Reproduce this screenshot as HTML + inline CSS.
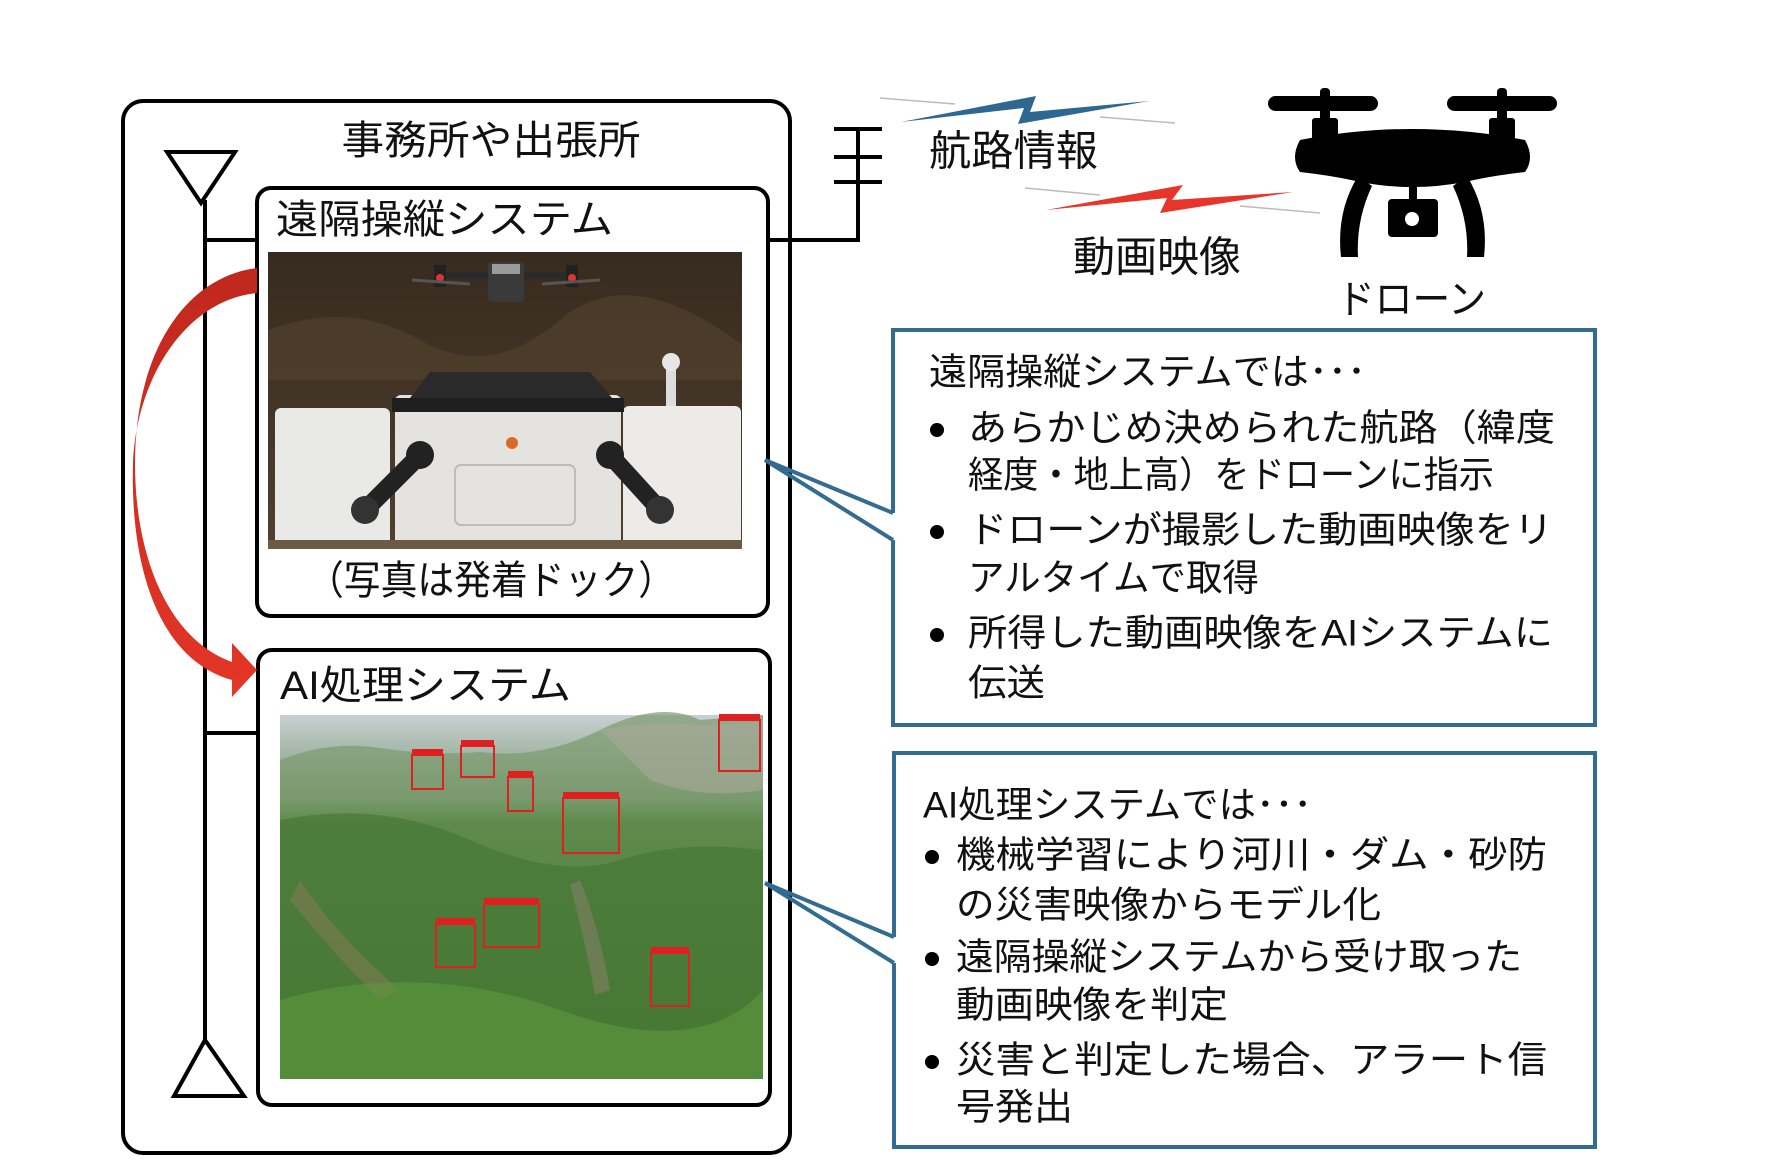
<!DOCTYPE html>
<html><head><meta charset="utf-8"><style>
html,body{margin:0;padding:0;background:#fff;}
svg{display:block;}
text{font-family:"Liberation Sans","Noto Sans CJK JP",sans-serif;fill:#111;}
</style></head><body>
<svg width="1770" height="1174" viewBox="0 0 1770 1174" xmlns="http://www.w3.org/2000/svg">
<defs>
<linearGradient id="bg1" x1="0" y1="0" x2="0" y2="1">
<stop offset="0" stop-color="#3a2e22"/><stop offset="0.5" stop-color="#4a3b2b"/><stop offset="1" stop-color="#5a4a38"/>
</linearGradient>
<linearGradient id="bg2" x1="0" y1="0" x2="0" y2="1">
<stop offset="0" stop-color="#c9d0d4"/><stop offset="0.12" stop-color="#9fb3a0"/><stop offset="0.3" stop-color="#5e8a4c"/><stop offset="1" stop-color="#4d7f38"/>
</linearGradient>
<linearGradient id="arc" x1="0" y1="0" x2="0" y2="1">
<stop offset="0" stop-color="#c0281e"/><stop offset="1" stop-color="#e33626"/>
</linearGradient>
</defs>

<rect x="123" y="101" width="667" height="1052" rx="20" fill="none" stroke="#000" stroke-width="4"/>
<text x="491" y="141" font-size="40" text-anchor="middle" dominant-baseline="central" textLength="299" lengthAdjust="spacingAndGlyphs">事務所や出張所</text>

<line x1="205" y1="200" x2="205" y2="1040" stroke="#000" stroke-width="4"/>
<polygon points="167,152 235,152 201,203" fill="none" stroke="#000" stroke-width="4"/>
<polygon points="205,1040 174,1096 244,1096" fill="none" stroke="#000" stroke-width="4"/>
<line x1="205" y1="240" x2="257" y2="240" stroke="#000" stroke-width="4"/>
<line x1="205" y1="733" x2="258" y2="733" stroke="#000" stroke-width="4"/>

<polyline points="768,240 858,240 858,127" fill="none" stroke="#000" stroke-width="4"/>
<line x1="834" y1="129" x2="882" y2="129" stroke="#000" stroke-width="4"/>
<line x1="834" y1="157" x2="882" y2="157" stroke="#000" stroke-width="4"/>
<line x1="834" y1="182" x2="882" y2="182" stroke="#000" stroke-width="4"/>

<rect x="257" y="188" width="511" height="428" rx="14" fill="#fff" stroke="#000" stroke-width="4"/>
<text x="276" y="220" font-size="40" dominant-baseline="central" textLength="337" lengthAdjust="spacingAndGlyphs">遠隔操縦システム</text>
<g>
<rect x="268" y="252" width="474" height="297" fill="url(#bg1)"/>
<rect x="268" y="252" width="474" height="297" fill="#2e2418" opacity="0.25"/>
<path d="M268 330 Q350 300 420 340 T560 320 T742 345 L742 380 L268 380Z" fill="#54432f" opacity="0.6"/>
<rect x="440" y="272" width="130" height="7" fill="#2a2a2a"/>
<rect x="488" y="262" width="36" height="40" rx="4" fill="#3a3a3a"/>
<rect x="492" y="264" width="28" height="10" fill="#9a9a9a"/>
<rect x="434" y="265" width="12" height="22" fill="#222"/><circle cx="440" cy="278" r="4" fill="#d33"/>
<rect x="566" y="265" width="12" height="22" fill="#222"/><circle cx="572" cy="278" r="4" fill="#d33"/>
<line x1="412" y1="280" x2="470" y2="284" stroke="#555" stroke-width="3"/>
<line x1="542" y1="284" x2="600" y2="280" stroke="#555" stroke-width="3"/>
<rect x="666" y="360" width="10" height="50" fill="#ddd"/>
<circle cx="671" cy="362" r="9" fill="#e6e6e6"/>
<rect x="275" y="408" width="115" height="138" rx="6" fill="#e9e9e7"/>
<rect x="623" y="406" width="118" height="140" rx="6" fill="#ecebe8"/>
<rect x="395" y="395" width="226" height="151" rx="6" fill="#e4e3df"/>
<rect x="392" y="398" width="232" height="14" fill="#1e1e1e"/>
<path d="M410 398 L430 372 L590 372 L612 398Z" fill="#2a2a2a"/>
<rect x="455" y="465" width="120" height="60" rx="6" fill="none" stroke="#bcbcb8" stroke-width="2"/>
<circle cx="512" cy="443" r="6" fill="#d96a2a"/>
<line x1="420" y1="455" x2="365" y2="510" stroke="#222" stroke-width="18" stroke-linecap="round"/>
<circle cx="420" cy="455" r="14" fill="#222"/><circle cx="365" cy="510" r="14" fill="#333"/>
<line x1="610" y1="455" x2="660" y2="510" stroke="#222" stroke-width="18" stroke-linecap="round"/>
<circle cx="610" cy="455" r="14" fill="#222"/><circle cx="660" cy="510" r="14" fill="#333"/>
<rect x="268" y="540" width="474" height="9" fill="#6b5a44"/>
</g>
<text x="491" y="581" font-size="40" text-anchor="middle" dominant-baseline="central" textLength="368" lengthAdjust="spacingAndGlyphs">（写真は発着ドック）</text>

<rect x="258" y="650" width="512" height="455" rx="14" fill="#fff" stroke="#000" stroke-width="4"/>
<text x="280" y="686" font-size="40" dominant-baseline="central" textLength="291" lengthAdjust="spacingAndGlyphs">AI処理システム</text>
<g>
<rect x="280" y="715" width="483" height="364" fill="url(#bg2)"/>
<path d="M280 760 Q330 740 380 748 T480 752 Q540 760 600 730 T700 720 L763 715 L763 800 L280 800Z" fill="#7a9a6e" opacity="0.7"/>
<path d="M600 730 Q650 720 700 725 L763 722 L763 790 Q700 800 650 780Z" fill="#a8a89a" opacity="0.6"/>
<path d="M280 820 Q380 800 470 840 T620 860 T763 850 L763 1079 L280 1079Z" fill="#3f7330" opacity="0.55"/>
<path d="M300 880 Q340 940 400 990 L380 1000 Q330 950 290 900Z" fill="#8a7a5a" opacity="0.5"/>
<path d="M580 880 Q600 930 610 990 L595 995 Q585 940 570 885Z" fill="#8d8070" opacity="0.5"/>
<path d="M280 1000 Q420 960 560 1010 T763 990 L763 1079 L280 1079Z" fill="#5d9a3e" opacity="0.6"/>
<g fill="none" stroke="#e02020" stroke-width="2">
<rect x="412" y="755" width="31" height="34"/><rect x="461" y="746" width="33" height="31"/>
<rect x="508" y="777" width="25" height="34"/><rect x="563" y="798" width="56" height="55"/>
<rect x="719" y="720" width="41" height="51"/><rect x="484" y="904" width="55" height="43"/>
<rect x="436" y="924" width="39" height="43"/><rect x="651" y="953" width="38" height="53"/>
</g>
<g fill="#e02020">
<rect x="412" y="749" width="31" height="7"/><rect x="461" y="740" width="33" height="7"/>
<rect x="508" y="771" width="25" height="7"/><rect x="563" y="792" width="56" height="7"/>
<rect x="719" y="714" width="41" height="7"/><rect x="484" y="898" width="55" height="7"/>
<rect x="436" y="918" width="39" height="7"/><rect x="651" y="947" width="38" height="7"/>
</g>
</g>

<path d="M257 268 C180 278 135 360 135 463 C135 560 170 640 232 662 L232 643 L257 670 L232 697 L232 680 C160 660 130 570 133 463 C136 380 185 300 257 293 Z" fill="url(#arc)"/>

<rect x="893" y="330" width="702" height="395" fill="none" stroke="#336c91" stroke-width="4"/>
<line x1="893" y1="513" x2="893" y2="540" stroke="#fff" stroke-width="6"/>
<rect x="894" y="753" width="701" height="394" fill="none" stroke="#336c91" stroke-width="4"/>
<line x1="894" y1="937" x2="894" y2="963" stroke="#fff" stroke-width="6"/>
<polyline points="893,513 765,460 893,540" fill="none" stroke="#336c91" stroke-width="4"/>
<polyline points="894,937 765,883 894,963" fill="none" stroke="#336c91" stroke-width="4"/>

<g font-size="37" dominant-baseline="central">
<text x="929" y="372" textLength="437" lengthAdjust="spacingAndGlyphs">遠隔操縦システムでは･･･</text>
<text x="968" y="428" textLength="587" lengthAdjust="spacingAndGlyphs">あらかじめ決められた航路（緯度</text>
<text x="968" y="475" textLength="526" lengthAdjust="spacingAndGlyphs">経度・地上高）をドローンに指示</text>
<text x="968" y="530" textLength="585" lengthAdjust="spacingAndGlyphs">ドローンが撮影した動画映像をリ</text>
<text x="968" y="578" textLength="291" lengthAdjust="spacingAndGlyphs">アルタイムで取得</text>
<text x="968" y="633" textLength="585" lengthAdjust="spacingAndGlyphs">所得した動画映像をAIシステムに</text>
<text x="968" y="683" textLength="77" lengthAdjust="spacingAndGlyphs">伝送</text>
<text x="923" y="805" textLength="389" lengthAdjust="spacingAndGlyphs">AI処理システムでは･･･</text>
<text x="956" y="855" textLength="591" lengthAdjust="spacingAndGlyphs">機械学習により河川・ダム・砂防</text>
<text x="956" y="905" textLength="425" lengthAdjust="spacingAndGlyphs">の災害映像からモデル化</text>
<text x="956" y="957" textLength="566" lengthAdjust="spacingAndGlyphs">遠隔操縦システムから受け取った</text>
<text x="956" y="1005" textLength="272" lengthAdjust="spacingAndGlyphs">動画映像を判定</text>
<text x="956" y="1060" textLength="591" lengthAdjust="spacingAndGlyphs">災害と判定した場合、アラート信</text>
<text x="956" y="1107" textLength="117" lengthAdjust="spacingAndGlyphs">号発出</text>
</g>
<g fill="#000">
<circle cx="937" cy="430" r="7"/><circle cx="937" cy="532" r="7"/><circle cx="937" cy="635" r="7"/>
<circle cx="932" cy="857" r="7"/><circle cx="932" cy="959" r="7"/><circle cx="932" cy="1062" r="7"/>
</g>

<g stroke="#bbb" stroke-width="1.5">
<line x1="880" y1="98" x2="955" y2="104"/><line x1="1100" y1="117" x2="1175" y2="123"/>
<line x1="1025" y1="188" x2="1100" y2="195"/><line x1="1240" y1="206" x2="1320" y2="213"/>
</g>
<polygon points="901,122 1036,96 1030,112 1149,101 1018,124 1024,108" fill="#2e6890"/>
<polygon points="1046,210 1183,185 1172,200 1293,192 1160,213 1167,198" fill="#e8352a"/>
<text x="929" y="151" font-size="42" dominant-baseline="central" textLength="169" lengthAdjust="spacingAndGlyphs">航路情報</text>
<text x="1073" y="257" font-size="42" dominant-baseline="central" textLength="168" lengthAdjust="spacingAndGlyphs">動画映像</text>
<text x="1337" y="300" font-size="40" dominant-baseline="central" textLength="149" lengthAdjust="spacingAndGlyphs">ドローン</text>

<g fill="#000">
<rect x="1268" y="96" width="110" height="15" rx="7.5"/>
<rect x="1447" y="96" width="110" height="15" rx="7.5"/>
<rect x="1320" y="88" width="10" height="50" rx="4"/>
<rect x="1497" y="88" width="10" height="50" rx="4"/>
<rect x="1312" y="118" width="26" height="22" rx="3"/>
<rect x="1489" y="118" width="26" height="22" rx="3"/>
<path d="M1300 140 Q1412 118 1525 140 Q1535 158 1525 172 Q1490 176 1465 182 Q1412 192 1360 182 Q1335 176 1300 172 Q1290 158 1300 140Z"/>
<path d="M1358 176 L1372 186 Q1356 220 1358 257 L1341 257 Q1336 212 1358 176Z"/>
<path d="M1467 176 L1453 186 Q1469 220 1467 257 L1484 257 Q1489 212 1467 176Z"/>
<rect x="1409" y="185" width="8" height="15"/>
<rect x="1388" y="199" width="50" height="38" rx="4"/>
</g>
<circle cx="1412" cy="219" r="7" fill="#fff"/>
</svg>
</body></html>
